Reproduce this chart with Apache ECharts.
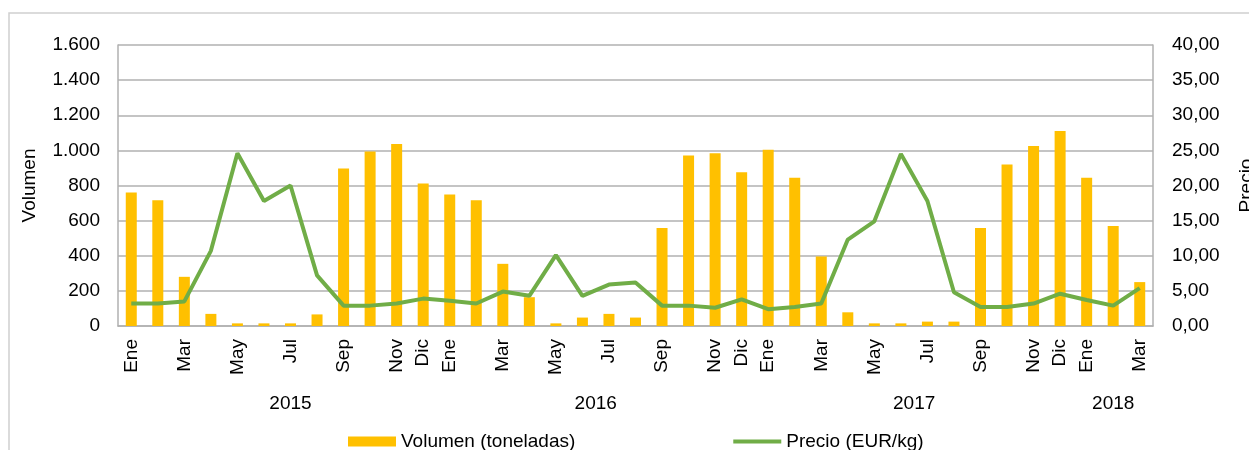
<!DOCTYPE html>
<html>
<head>
<meta charset="utf-8">
<script src="https://cdn.jsdelivr.net/npm/echarts@6/dist/echarts.min.js"></script>
<style>
  html, body { margin: 0; padding: 0; background: #fff; }
  #chart { width: 1249px; height: 450px; }
</style>
</head>
<body>
<div id="chart"></div>
<script>
// meses Ene 2015 .. Mar 2018
var months = ["Ene","Feb","Mar","Abr","May","Jun","Jul","Ago","Sep","Oct","Nov","Dic",
              "Ene","Feb","Mar","Abr","May","Jun","Jul","Ago","Sep","Oct","Nov","Dic",
              "Ene","Feb","Mar","Abr","May","Jun","Jul","Ago","Sep","Oct","Nov","Dic",
              "Ene","Feb","Mar"];
// indices de meses con etiqueta visible
var shownMonths = [0,2,4,6,8,10,11,12,14,16,18,20,22,23,24,26,28,30,32,34,35,36,38];

var volumen = [760,716,280,69,15,15,15,66,897,994,1036,811,
               749,716,354,164,15,48,69,48,558,971,983,876,
               1004,844,396,78,15,15,25,25,558,920,1025,1110,
               844,569,250];

var precio = [3.2,3.2,3.5,10.7,24.6,17.8,20.0,7.2,2.9,2.9,3.2,3.9,
              3.6,3.2,4.9,4.3,10.1,4.3,5.9,6.2,2.9,2.9,2.6,3.8,
              2.4,2.7,3.2,12.3,14.9,24.5,17.8,4.8,2.7,2.7,3.2,4.6,
              3.7,2.9,5.4];

var yearLabels = ["2015","2016","2017","2018"];
var yearPos = [6.5, 18, 30, 37.5];

var font = "'Liberation Sans', Arial, sans-serif";
var txt = "#000";
var gridColor = "#b0b0b0";

var chart = echarts.init(document.getElementById("chart"));

var option = {
  animation: false,
  textStyle: { fontFamily: font, color: txt },
  graphic: [{
    type: "rect",
    shape: { x: 9, y: 13, width: 1260, height: 460 },
    style: { fill: "none", stroke: "#d0d0d0", lineWidth: 1.5 },
    silent: true
  }],
  grid: { left: 118, right: 96, top: 45, bottom: 124, outerBoundsMode: "none" },
  legend: {
    left: 343,
    top: 427,
    itemGap: 158,
    itemWidth: 48,
    itemHeight: 10,
    textStyle: { fontFamily: font, fontSize: 19, color: txt },
    data: [
      { name: "Volumen (toneladas)", icon: "rect" },
      { name: "Precio (EUR/kg)", icon: "path://M0,0H48V4H0Z" }
    ]
  },
  xAxis: [{
    type: "category",
    data: months,
    axisLine: { lineStyle: { color: gridColor, width: 1.5 } },
    axisTick: { show: false },
    axisLabel: {
      rotate: 90,
      margin: 13,
      fontSize: 19,
      color: txt,
      fontFamily: font,
      interval: function (i) { return shownMonths.indexOf(i) >= 0; }
    }
  }, {
    type: "value",
    position: "bottom",
    min: 0,
    max: 39,
    interval: 0.5,
    axisLine: { show: false },
    axisTick: { show: false },
    splitLine: { show: false },
    axisLabel: {
      margin: 68,
      fontSize: 19,
      color: txt,
      fontFamily: font,
      formatter: function (v) {
        var k = yearPos.indexOf(v);
        return k >= 0 ? yearLabels[k] : "";
      }
    }
  }],
  yAxis: [{
    type: "value",
    min: 0,
    max: 1600,
    interval: 200,
    name: "Volumen",
    nameLocation: "middle",
    nameRotate: 90,
    nameGap: 79,
    nameTextStyle: { fontSize: 19, color: txt, fontFamily: font },
    axisLine: { show: true, lineStyle: { color: gridColor, width: 1.5 } },
    axisTick: { show: false },
    splitLine: { lineStyle: { color: gridColor, width: 1.5 } },
    axisLabel: {
      margin: 18,
      fontSize: 19,
      color: txt,
      fontFamily: font,
      formatter: function (v) {
        return String(v).replace(/\B(?=(\d{3})+(?!\d))/g, ".");
      }
    }
  }, {
    type: "value",
    min: 0,
    max: 40,
    interval: 5,
    name: "Precio",
    nameLocation: "middle",
    nameRotate: 90,
    nameGap: 84,
    nameTextStyle: { fontSize: 19, color: txt, fontFamily: font },
    axisLine: { show: true, lineStyle: { color: gridColor, width: 1.5 } },
    axisTick: { show: false },
    splitLine: { show: false },
    axisLabel: {
      margin: 19,
      fontSize: 19,
      color: txt,
      fontFamily: font,
      formatter: function (v) { return v.toFixed(2).replace(".", ","); }
    }
  }],
  series: [{
    name: "Volumen (toneladas)",
    type: "bar",
    data: volumen,
    barWidth: 11,
    itemStyle: { color: "#FFC000" }
  }, {
    name: "Precio (EUR/kg)",
    type: "line",
    yAxisIndex: 1,
    data: precio,
    symbol: "none",
    lineStyle: { color: "#70AD47", width: 4 },
    itemStyle: { color: "#70AD47" }
  }]
};

chart.setOption(option);
</script>
</body>
</html>
